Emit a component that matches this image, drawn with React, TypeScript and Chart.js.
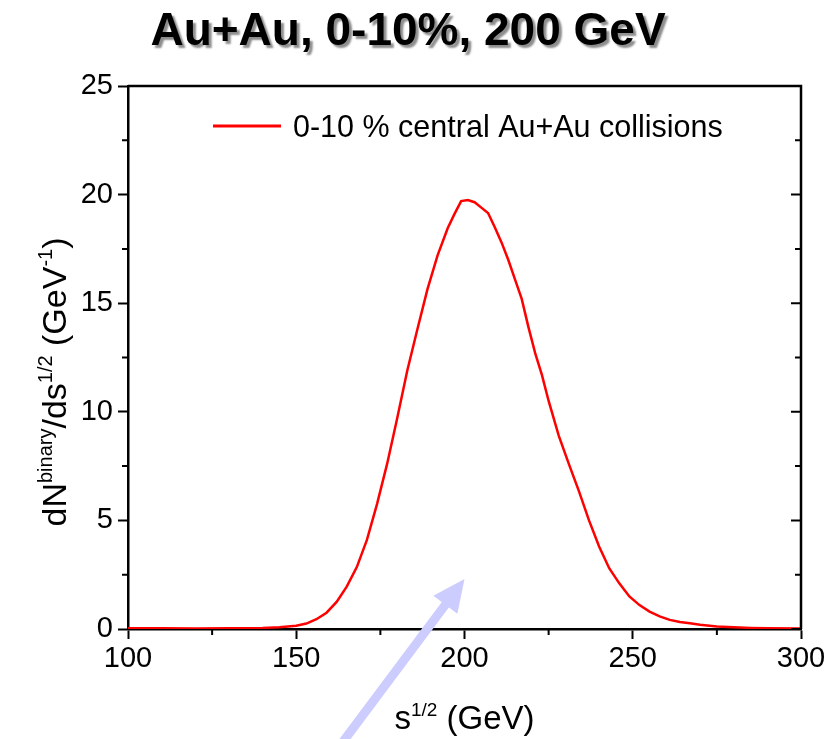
import React, { useEffect, useRef } from "react";
import { Chart, registerables } from "chart.js";

Chart.register(...registerables);

// ---- Data ----
const energies = [
  100, 110, 120, 130, 140, 145, 150, 153, 156, 159, 162, 165, 168, 171, 174,
  177, 180, 183, 186, 189, 192, 195, 197, 199, 201, 203, 205, 207, 209, 211,
  213, 215, 217, 219, 221, 223, 225, 228, 231, 234, 237, 240, 243, 246, 249,
  252, 255, 258, 261, 264, 267, 270, 275, 280, 285, 290, 300,
];
const dNds = [
  0.03, 0.03, 0.02, 0.03, 0.05, 0.08, 0.15, 0.25, 0.45, 0.75, 1.25, 1.95, 2.85,
  4.1, 5.75, 7.6, 9.7, 11.9, 13.8, 15.65, 17.2, 18.45, 19.1, 19.7, 19.75, 19.65,
  19.4, 19.15, 18.5, 17.8, 17.0, 16.1, 15.2, 13.9, 12.7, 11.7, 10.5, 8.9, 7.6,
  6.35, 5.0, 3.8, 2.8, 2.1, 1.5, 1.1, 0.8, 0.58, 0.42, 0.32, 0.26, 0.2, 0.12,
  0.08, 0.05, 0.03, 0.02,
];
const seriesLabel = "0-10 % central Au+Au collisions";
const titleText = "Au+Au, 0-10%, 200 GeV";
const xMajorTicks = [100, 150, 200, 250, 300];
const xMinorTicks = [125, 175, 225, 275];
const yMajorTicks = [0, 5, 10, 15, 20, 25];
const yMinorTicks = [2.5, 7.5, 12.5, 17.5, 22.5];
// arrow annotation in data coordinates: [x, y] tail and tip
const arrowTail = [162.4, -5.5];
const arrowTip = [200, 2.3];

const FONT = '"Liberation Sans", Arial, Helvetica, sans-serif';

type Part = { t: string; sup?: boolean };

function drawRich(ctx: CanvasRenderingContext2D, parts: Part[], cx: number, baseY: number, size: number, supSize: number) {
  const widths = parts.map((p) => {
    ctx.font = `${p.sup ? supSize : size}px ${FONT}`;
    return ctx.measureText(p.t).width;
  });
  const total = widths.reduce((a, b) => a + b, 0);
  let x = cx - total / 2;
  ctx.textAlign = "left";
  ctx.textBaseline = "alphabetic";
  parts.forEach((p, i) => {
    ctx.font = `${p.sup ? supSize : size}px ${FONT}`;
    ctx.fillText(p.t, x, p.sup ? baseY - size * 0.4 : baseY);
    x += widths[i];
  });
}

const decorPlugin = {
  id: "decor",
  afterDraw(chart: any) {
    const { ctx, chartArea, scales } = chart;
    const { left, right, top, bottom } = chartArea;
    const x = scales.x;
    const y = scales.y;
    ctx.save();
    // frame top and right
    ctx.strokeStyle = "#000";
    ctx.lineWidth = 2.5;
    ctx.beginPath();
    ctx.moveTo(left, top);
    ctx.lineTo(right, top);
    ctx.lineTo(right, bottom);
    ctx.stroke();
    ctx.lineWidth = 2;
    ctx.beginPath();
    xMinorTicks.forEach((v) => {
      const px = x.getPixelForValue(v);
      ctx.moveTo(px, bottom);
      ctx.lineTo(px, bottom + 6);
    });
    yMinorTicks.forEach((v) => {
      const py = y.getPixelForValue(v);
      ctx.moveTo(left - 6, py);
      ctx.lineTo(left, py);
      ctx.moveTo(right - 6, py);
      ctx.lineTo(right, py);
    });
    yMajorTicks.forEach((v) => {
      const py = y.getPixelForValue(v);
      ctx.moveTo(right - 10, py);
      ctx.lineTo(right, py);
    });
    ctx.stroke();

    // legend
    const ds = chart.data.datasets[0];
    ctx.strokeStyle = ds.borderColor;
    ctx.lineWidth = 3;
    ctx.beginPath();
    ctx.moveTo(213, 126);
    ctx.lineTo(281, 126);
    ctx.stroke();
    ctx.fillStyle = "#000";
    ctx.font = `30.5px ${FONT}`;
    ctx.textAlign = "left";
    ctx.textBaseline = "alphabetic";
    ctx.fillText(ds.label, 293, 137);

    // title with shadow
    ctx.save();
    ctx.font = `bold 46px ${FONT}`;
    ctx.textAlign = "center";
    ctx.shadowColor = "rgba(0,0,0,0.45)";
    ctx.shadowOffsetX = 3;
    ctx.shadowOffsetY = 3;
    ctx.shadowBlur = 2;
    ctx.fillStyle = "#000";
    ctx.fillText(titleText, 408, 45);
    ctx.restore();

    // x axis title
    ctx.fillStyle = "#000";
    drawRich(ctx, [{ t: "s" }, { t: "1/2", sup: true }, { t: " (GeV)" }], (left + right) / 2, 729, 33, 19);

    // y axis title
    ctx.save();
    ctx.translate(66, 382);
    ctx.rotate(-Math.PI / 2);
    drawRich(
      ctx,
      [
        { t: "dN" },
        { t: "binary", sup: true },
        { t: "/ds" },
        { t: "1/2", sup: true },
        { t: " (GeV" },
        { t: "-1", sup: true },
        { t: ")" },
      ],
      0,
      0,
      34,
      20
    );
    ctx.restore();

    // arrow
    const tx = x.getPixelForValue(arrowTip[0]);
    const ty = y.getPixelForValue(arrowTip[1]);
    const sx = x.getPixelForValue(arrowTail[0]);
    const sy = y.getPixelForValue(arrowTail[1]);
    const ang = Math.atan2(ty - sy, tx - sx);
    const headLen = 32;
    const headHalf = 15;
    const bx = tx - headLen * Math.cos(ang);
    const by = ty - headLen * Math.sin(ang);
    ctx.strokeStyle = "#ccccff";
    ctx.fillStyle = "#ccccff";
    ctx.lineWidth = 9;
    ctx.beginPath();
    ctx.moveTo(sx, sy);
    ctx.lineTo(bx + 2 * Math.cos(ang), by + 2 * Math.sin(ang));
    ctx.stroke();
    ctx.beginPath();
    ctx.moveTo(tx, ty);
    ctx.lineTo(bx + headHalf * Math.sin(ang), by - headHalf * Math.cos(ang));
    ctx.lineTo(bx - headHalf * Math.sin(ang), by + headHalf * Math.cos(ang));
    ctx.closePath();
    ctx.fill();
    ctx.restore();
  },
};

export default function App() {
  const ref = useRef<HTMLCanvasElement | null>(null);
  useEffect(() => {
    document.body.style.margin = "0";
    const canvas = ref.current;
    if (!canvas) return;
    const chart = new Chart(canvas, {
      type: "line",
      data: {
        datasets: [
          {
            label: seriesLabel,
            data: energies.map((e, i) => ({ x: e, y: dNds[i] })),
            borderColor: "#ff0000",
            borderWidth: 2.5,
            pointRadius: 0,
            tension: 0,
            fill: false,
          },
        ],
      },
      options: {
        animation: false,
        responsive: false,
        devicePixelRatio: 1,
        layout: { padding: { top: 86, right: 37, left: 0, bottom: 0 } },
        plugins: { legend: { display: false }, title: { display: false }, tooltip: { enabled: false } },
        scales: {
          x: {
            type: "linear",
            min: 100,
            max: 300,
            afterFit: (s: any) => {
              s.height = 110;
            },
            afterBuildTicks: (s: any) => {
              s.ticks = xMajorTicks.map((v) => ({ value: v }));
            },
            border: { display: true, color: "#000", width: 2.5 },
            grid: { drawOnChartArea: false, drawTicks: true, tickLength: 10, tickWidth: 2, tickColor: "#000" },
            ticks: { color: "#000", font: { family: FONT, size: 29 }, padding: 3, maxRotation: 0 },
          },
          y: {
            min: 0,
            max: 25,
            afterFit: (s: any) => {
              s.width = 128;
            },
            afterBuildTicks: (s: any) => {
              s.ticks = yMajorTicks.map((v) => ({ value: v }));
            },
            border: { display: true, color: "#000", width: 2.5 },
            grid: { drawOnChartArea: false, drawTicks: true, tickLength: 10, tickWidth: 2, tickColor: "#000" },
            ticks: { color: "#000", font: { family: FONT, size: 29 }, padding: 5 },
          },
        },
      },
      plugins: [decorPlugin],
    });
    return () => chart.destroy();
  }, []);
  return (
    <div style={{ position: "fixed", left: 0, top: 0, width: 838, height: 739, background: "#fff" }}>
      <canvas ref={ref} width={838} height={739} style={{ width: 838, height: 739, display: "block" }} />
    </div>
  );
}
